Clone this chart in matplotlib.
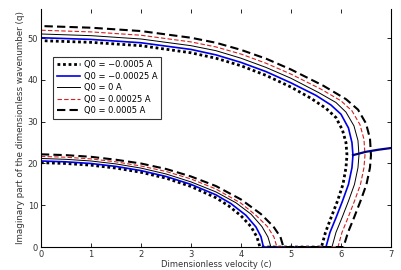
import matplotlib
matplotlib.use("Agg")
import matplotlib.pyplot as plt

labels = ["Q0 = \u22120.0005 A", "Q0 = \u22120.00025 A", "Q0 = 0 A",
          "Q0 = 0.00025 A", "Q0 = 0.0005 A"]

# lower branches (x from 0 to intercept)
low_x = [
    [0, 0.5, 1, 1.5, 2, 2.5, 3, 3.5, 3.75, 4.0, 4.2, 4.32, 4.38],
    [0, 0.5, 1, 1.5, 2, 2.5, 3, 3.5, 3.8, 4.1, 4.3, 4.4, 4.45],
    [0, 0.5, 1, 1.5, 2, 2.5, 3, 3.5, 3.9, 4.2, 4.42, 4.54, 4.6],
    [0, 0.5, 1, 1.5, 2, 2.5, 3, 3.5, 4.0, 4.3, 4.53, 4.66, 4.72],
    [0, 0.5, 1, 1.5, 2, 2.5, 3, 3.5, 4.0, 4.4, 4.65, 4.79, 4.85],
]
low_y = [
    [20.2, 20.0, 19.6, 18.9, 17.9, 16.5, 14.5, 11.8, 9.9, 7.5, 4.9, 2.4, 0],
    [20.6, 20.4, 20.0, 19.3, 18.3, 16.9, 15.0, 12.5, 10.4, 7.6, 4.8, 2.5, 0],
    [21.2, 21.0, 20.6, 19.9, 18.9, 17.5, 15.6, 13.2, 10.6, 7.9, 4.9, 2.4, 0],
    [21.7, 21.5, 21.1, 20.4, 19.4, 18.1, 16.3, 13.9, 10.5, 7.6, 4.9, 2.4, 0],
    [22.2, 22.0, 21.6, 20.9, 20.0, 18.7, 16.9, 14.6, 11.4, 7.9, 4.9, 2.4, 0],
]
# upper branches (from x=0 around to y=0)
up_x = [
    [0, 1, 2, 3, 3.5, 4, 4.5, 5, 5.4, 5.7, 5.9, 6.03, 6.1, 6.12, 6.1, 6.04, 5.93, 5.8, 5.69, 5.61],
    [0, 1, 2, 3, 3.5, 4, 4.5, 5, 5.5, 5.8, 6.0, 6.15, 6.22, 6.24, 6.22, 6.15, 6.03, 5.9, 5.78, 5.7],
    [0, 1, 2, 3, 3.5, 4, 4.5, 5, 5.55, 5.9, 6.1, 6.26, 6.34, 6.36, 6.34, 6.27, 6.15, 6.02, 5.9, 5.82],
    [0, 1, 2, 3, 3.5, 4, 4.5, 5, 5.6, 6.0, 6.22, 6.38, 6.46, 6.48, 6.46, 6.39, 6.27, 6.14, 6.02, 5.94],
    [0, 1, 2, 3, 3.5, 4, 4.5, 5, 5.65, 6.1, 6.34, 6.5, 6.58, 6.6, 6.58, 6.51, 6.39, 6.26, 6.14, 6.05],
]
up_y = [
    [49.4, 49.0, 48.2, 46.5, 45.2, 43.4, 41.1, 38.3, 35.6, 33.2, 31, 28, 25, 22, 19, 15, 11, 7, 3.5, 0],
    [50.1, 49.7, 48.9, 47.3, 46, 44.2, 42, 39.3, 36.3, 34, 31.8, 28.5, 25, 22, 19, 15, 11, 7, 3.5, 0],
    [51.0, 50.6, 49.8, 48.2, 47.0, 45.2, 43.0, 40.4, 37.0, 34.6, 32.3, 29, 25.5, 22, 19, 15, 11, 7, 3.5, 0],
    [51.9, 51.5, 50.7, 49.1, 47.9, 46.2, 44.0, 41.4, 37.8, 35.0, 32.6, 29.3, 25.8, 22, 19, 15, 11, 7, 3.5, 0],
    [52.9, 52.5, 51.7, 50.1, 48.9, 47.2, 45.1, 42.5, 38.6, 35.4, 32.9, 29.6, 26, 22, 19, 15, 11, 7, 3.5, 0],
]
branch_x = [6.24, 6.5, 6.75, 7.0]
branch_y = [22.0, 22.8, 23.3, 23.7]

styles = [
    dict(color="black", ls=(0, (1, 1)), lw=2.0),
    dict(color="#0000e6", ls="-", lw=1.2),
    dict(color="black", ls="-", lw=0.7),
    dict(color="#d42020", ls=(0, (4, 2)), lw=0.8),
    dict(color="black", ls=(0, (4, 2)), lw=1.5),
]

fig = plt.figure(figsize=(4.01, 2.70), dpi=100)
ax = fig.add_axes([0.102, 0.085, 0.873, 0.882])

for i in range(5):
    xs = low_x[i] + up_x[i][::-1]
    ys = low_y[i] + up_y[i][::-1]
    ax.plot(xs, ys, label=labels[i], **styles[i])

ax.plot(branch_x, branch_y, color="#000080", lw=1.6)

ax.set_xlim(0, 7)
ax.set_ylim(0, 57)
ax.set_xticks(range(0, 8))
ax.set_yticks([0, 10, 20, 30, 40, 50])
ax.tick_params(direction="in", length=3, width=0.6, labelsize=6,
               top=True, right=True, pad=2, labelcolor="#333333")
for s in ax.spines.values():
    s.set_linewidth(0.8)
ax.spines["top"].set_visible(False)

ax.set_xlabel("Dimensionless velocity (c)", fontsize=6, labelpad=1, color="#333333")
ax.set_ylabel("Imaginary part of the dimensionless wavenumber (q)", fontsize=6.3,
              labelpad=2, color="#333333")

leg = ax.legend(loc="upper left", bbox_to_anchor=(0.034, 0.80), fontsize=6,
                frameon=True, fancybox=False, edgecolor="black",
                handlelength=2.8, handletextpad=0.5, borderpad=0.45,
                labelspacing=0.3, borderaxespad=0)
leg.get_frame().set_linewidth(0.8)

fig.savefig("out.png", dpi=100)
